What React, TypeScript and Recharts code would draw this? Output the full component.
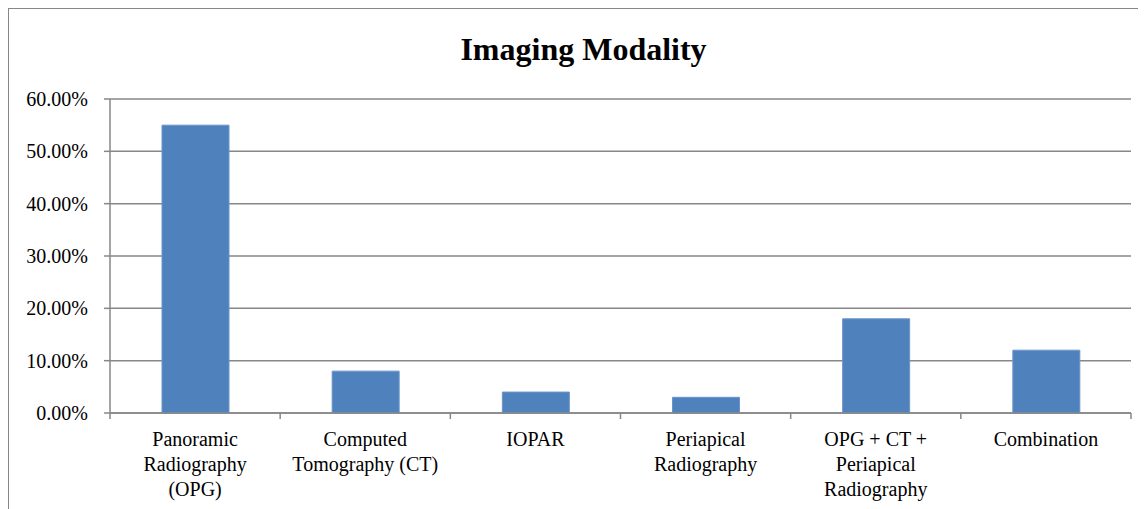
import React from "react";
import { BarChart, Bar, XAxis, YAxis, CartesianGrid } from "recharts";

const categories = [
  "Panoramic Radiography (OPG)",
  "Computed Tomography (CT)",
  "IOPAR",
  "Periapical Radiography",
  "OPG + CT + Periapical Radiography",
  "Combination",
];
const labelLines = [
  ["Panoramic", "Radiography", "(OPG)"],
  ["Computed", "Tomography (CT)"],
  ["IOPAR"],
  ["Periapical", "Radiography"],
  ["OPG + CT +", "Periapical", "Radiography"],
  ["Combination"],
];
const values = [0.55, 0.08, 0.04, 0.03, 0.18, 0.12];
const yTicks = [0, 0.1, 0.2, 0.3, 0.4, 0.5, 0.6];

const data = categories.map((name, i) => ({ name, value: values[i] }));

const W = 1137;
const H = 500;
const LEFT = 101;
const RIGHT = 15;
const BAND = (W - LEFT - RIGHT) / categories.length;
const GRID = "#878787";
const FONT = "'Liberation Serif', 'Times New Roman', serif";
const textStyle: React.CSSProperties = { fontFamily: FONT, fontSize: 20, fill: "#000" };

function CategoryTick(props: any) {
  const { x, y, index } = props;
  const lines: string[] = labelLines[index] || [];
  const last = index === categories.length - 1;
  return (
    <g>
      <line x1={x - BAND / 2} x2={x - BAND / 2} y1={y} y2={y + 6} stroke={GRID} strokeWidth={1.5} />
      {last && <line x1={x + BAND / 2} x2={x + BAND / 2} y1={y} y2={y + 6} stroke={GRID} strokeWidth={1.5} />}
      {lines.map((t, i) => (
        <text key={i} x={x} y={y + 33 + i * 25} textAnchor="middle" style={textStyle}>
          {t}
        </text>
      ))}
    </g>
  );
}

function ValueTick(props: any) {
  const { x, y, payload } = props;
  return (
    <text x={x} y={y + 7} textAnchor="end" style={textStyle}>
      {`${(payload.value * 100).toFixed(2)}%`}
    </text>
  );
}

export default function App() {
  return (
    <div
      style={{
        position: "relative",
        width: W + 1,
        height: H + 1,
        borderTop: `1px solid ${GRID}`,
        borderLeft: `1px solid ${GRID}`,
        boxSizing: "border-box",
        fontFamily: FONT,
        background: "#fff",
      }}
    >
      <BarChart width={W} height={H} data={data} margin={{ top: 90, right: RIGHT, bottom: 5, left: 0 }}>
        <CartesianGrid vertical={false} stroke={GRID} strokeWidth={1.5} />
        <XAxis
          dataKey="name"
          interval={0}
          height={91}
          axisLine={{ stroke: GRID, strokeWidth: 1.5 }}
          tickLine={false}
          tickSize={0}
          tickMargin={0}
          tick={<CategoryTick />}
        />
        <YAxis
          domain={[0, 0.6]}
          ticks={yTicks}
          width={LEFT}
          axisLine={{ stroke: GRID, strokeWidth: 1.5 }}
          tickLine={{ stroke: GRID, strokeWidth: 1.5 }}
          tickSize={6}
          tickMargin={16}
          tick={<ValueTick />}
        />
        <Bar dataKey="value" fill="#4f81bd" stroke="#6b95c8" strokeWidth={1} barSize={67} isAnimationActive={false} />
      </BarChart>
      <svg width={W} height={80} style={{ position: "absolute", left: 0, top: 0, pointerEvents: "none" }}>
        <text x={574.5} y={51} textAnchor="middle" fontSize={32} fontWeight="bold" style={{ fontFamily: FONT }} fill="#000">
          Imaging Modality
        </text>
      </svg>
    </div>
  );
}
